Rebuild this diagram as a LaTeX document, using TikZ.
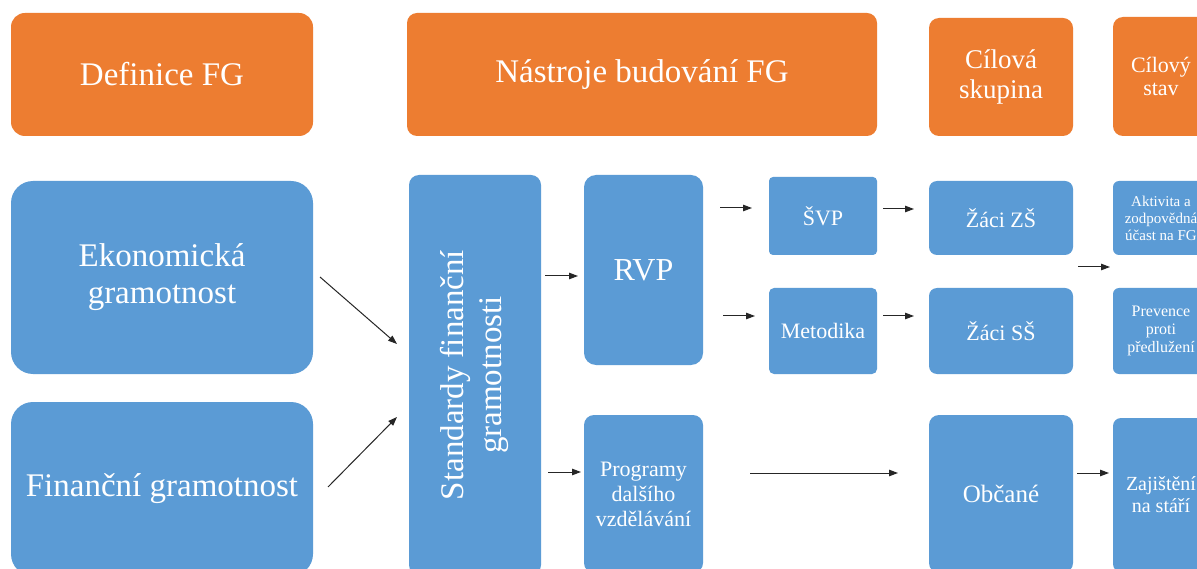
\documentclass[tikz,border=0pt]{standalone}
\usepackage{fontspec}
\usepackage{graphicx}
\setmainfont{Liberation Serif}
\usetikzlibrary{arrows.meta}
\definecolor{orng}{HTML}{ED7D31}
\definecolor{blu}{HTML}{5B9BD5}
\newcommand{\fsz}[2]{\fontsize{#1}{#2}\selectfont}
\tikzset{
  hdr/.style={fill=orng, draw=none, text=white, align=center, inner sep=0pt, outer sep=0pt},
  bx/.style={fill=blu, draw=none, text=white, align=center, inner sep=0pt, outer sep=0pt},
  arr/.style={draw=black!85, line width=1pt, -{Triangle[length=9pt,width=6.5pt]}},
}
\begin{document}
\begin{tikzpicture}[x=1pt,y=-1pt]
\useasboundingbox (0,0) rectangle (1197,569);
\clip (0,0) rectangle (1197,569);
\fill[white] (0,0) rectangle (1197,569);
% header row
\node[hdr, rounded corners=14pt, minimum width=302pt, minimum height=123pt, font=\fsz{33}{37}] (def) at (162,74.5) {Definice FG};
\node[hdr, rounded corners=10pt, minimum width=470pt, minimum height=123pt, font=\fsz{33}{37}] (nas) at (642,74.5) {Nástroje budování FG};
\node[hdr, rounded corners=10pt, minimum width=144pt, minimum height=118pt, font=\fsz{27}{30}] (cs) at (1001,77) {Cílová\\skupina};
\node[hdr, rounded corners=10pt, minimum width=96pt, minimum height=119pt, font=\fsz{22}{23}] (cst) at (1161,76.5) {Cílový\\stav};
% left column
\node[bx, rounded corners=22pt, minimum width=302pt, minimum height=193pt, font=\fsz{33}{37}] (eko) at (162,277.5) {Ekonomická\\gramotnost};
\node[bx, rounded corners=22pt, minimum width=302pt, minimum height=174pt, font=\fsz{33}{37}] (fin) at (162,489) {Finanční gramotnost};
% standards
\node[bx, rounded corners=10pt, minimum width=132pt, minimum height=400pt, font=\fsz{33}{38}] (std) at (475,375) {\rotatebox{90}{\begin{tabular}{@{}c@{}}Standardy finanční\\gramotnosti\end{tabular}}};
% tools
\node[bx, rounded corners=12pt, minimum width=119pt, minimum height=190pt, font=\fsz{32}{36}] (rvp) at (643.5,270) {RVP};
\node[bx, rounded corners=10pt, minimum width=119pt, minimum height=158pt, font=\fsz{22}{25}] (prg) at (643.5,494) {Programy\\dalšího\\vzdělávání};
\node[bx, rounded corners=4pt, minimum width=108pt, minimum height=78pt, font=\fsz{22}{25}] (svp) at (823,216) {ŠVP};
\node[bx, rounded corners=5pt, minimum width=108pt, minimum height=86pt, font=\fsz{22}{25}] (met) at (823,331) {Metodika};
% target groups
\node[bx, rounded corners=8pt, minimum width=144pt, minimum height=74pt, font=\fsz{22}{25}] (zzs) at (1001,218) {Žáci ZŠ};
\node[bx, rounded corners=8pt, minimum width=144pt, minimum height=86pt, font=\fsz{22}{25}] (zss) at (1001,331) {Žáci SŠ};
\node[bx, rounded corners=10pt, minimum width=144pt, minimum height=158pt, font=\fsz{25}{28}] (obc) at (1001,494) {Občané};
% target states
\node[bx, rounded corners=6pt, minimum width=96pt, minimum height=74pt, font=\fsz{15}{17}] (akt) at (1161,218) {Aktivita a\\zodpovědná\\účast na FG};
\node[bx, rounded corners=6pt, minimum width=96pt, minimum height=86pt, font=\fsz{16}{18}] (pre) at (1161,331) {Prevence\\proti\\předlužení};
\node[bx, rounded corners=8pt, minimum width=96pt, minimum height=154pt, font=\fsz{20}{22}] (zaj) at (1161,495) {Zajištění\\na stáří};
% connector end points
\coordinate (e1s) at (320,277); \coordinate (e1e) at (397,344);
\coordinate (e2s) at (328,487); \coordinate (e2e) at (397,417);
\coordinate (e3s) at (545,276); \coordinate (e3e) at (578,276);
\coordinate (e4s) at (548,472); \coordinate (e4e) at (581,472);
\coordinate (e5s) at (720,208); \coordinate (e5e) at (752,208);
\coordinate (e6s) at (723,316); \coordinate (e6e) at (755,316);
\coordinate (e7s) at (883,209); \coordinate (e7e) at (914,209);
\coordinate (e8s) at (883,316); \coordinate (e8e) at (914,316);
\coordinate (e9s) at (1078,267); \coordinate (e9e) at (1110,267);
\coordinate (e10s) at (750,473); \coordinate (e10e) at (898,473);
\coordinate (e11s) at (1077,473); \coordinate (e11e) at (1109,473);
\foreach \i in {1,...,11} {\draw[arr] (e\i s) -- (e\i e);}
\end{tikzpicture}
\end{document}
